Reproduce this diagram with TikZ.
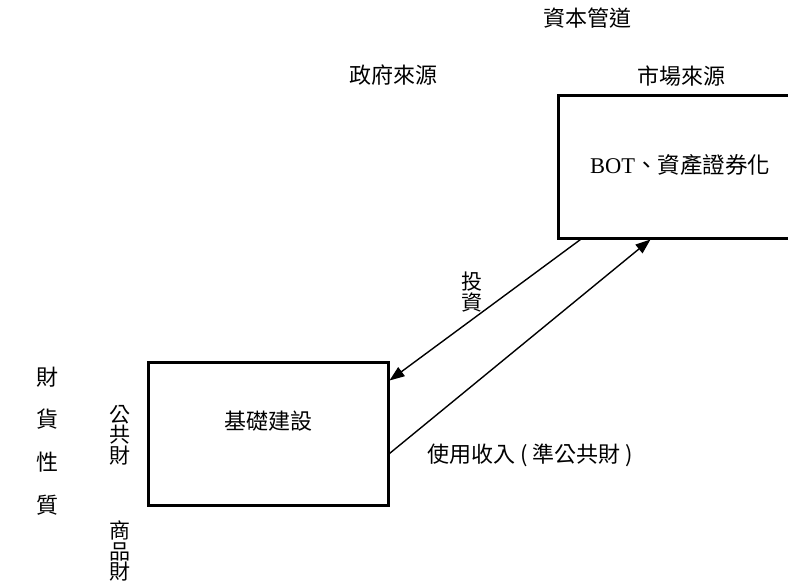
\documentclass[tikz,border=0pt]{standalone}
\usepackage{fontspec}
\setmainfont{Liberation Serif}
\newfontfamily\cjk{Noto Sans CJK TC}
\usetikzlibrary{arrows.meta}
\begin{document}
\begin{tikzpicture}[x=1pt,y=-1pt,
  box/.style={draw,line width=3pt,minimum width=240pt,minimum height=143pt,inner sep=0pt},
  lbl/.style={font=\fontsize{22}{24}\selectfont\cjk,inner sep=0pt},
  vlbl/.style={lbl,align=center,font=\fontsize{21}{20.5}\selectfont\cjk},
  arr/.style={line width=1.4pt,-{Triangle[length=15pt,width=11pt]}}]
\useasboundingbox (0,0) rectangle (788,582);
\node[box] (top) at (678,166.5) {};
\node[box] (bot) at (268,433.5) {};
\node[font=\fontsize{22.5}{24}\selectfont,inner sep=0pt] (toptxt) at (680,165) {BOT{\cjk 、資產證券化}};
\node[lbl] (bottxt) at (268,421) {基礎建設};
\node[lbl] (cap) at (587,18) {資本管道};
\node[lbl] (mkt) at (681,76) {市場來源};
\node[lbl] (gov) at (393,75) {政府來源};
\node[vlbl] (inv) at (472,292) {投\\資};
\node[lbl] (use) at (530,455) {使用收入 ( 準公共財 )};
\node[lbl] (c1) at (47,377) {財};
\node[lbl] (c2) at (47,419) {貨};
\node[lbl] (c3) at (47,462) {性};
\node[lbl] (c4) at (47,505) {質};
\node[vlbl] (pub) at (120,435) {公\\共\\財};
\node[vlbl] (com) at (120,551) {商\\品\\財};
\draw[arr] ([xshift=24pt]top.south west) -- ([yshift=-20pt]bot.north east);
\draw[arr] ([yshift=-93pt]bot.north east) -- ([xshift=94pt]top.south west);
\end{tikzpicture}
\end{document}
